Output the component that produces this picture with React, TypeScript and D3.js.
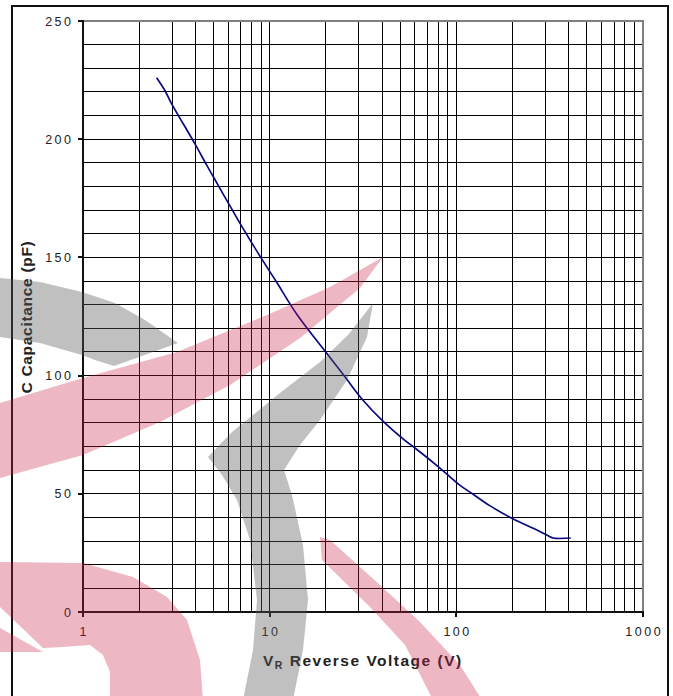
import React from "react";
import * as d3 from "d3";

// Reverse voltage (V) and junction capacitance (pF) along the characteristic curve
const voltage = [2.48, 2.75, 2.96, 3.98, 4.6, 5.0, 6.26, 7.17, 8.96, 10.8, 14.1, 20.4, 25.3, 31.3, 40.7, 53.2, 59.1, 81.4, 103, 123, 151, 202, 258, 305, 330, 410];
const capacitance = [226, 220.5, 215.5, 198, 189, 184, 170.5, 162.5, 150, 140, 125.5, 109, 99.5, 90, 80.5, 72.5, 69.8, 61, 54, 49.8, 45, 39.3, 35.4, 32.6, 31.3, 31.3];

const yTicks = [0, 50, 100, 150, 200, 250];
const xTicks = [1, 10, 100, 1000];
const xTickLabels = ["1", "10", "100", "1000"];

// Background emblem outlines (page pixels)
const emblemGray: [number, number][][] = [
  [[0, 278], [40, 282], [82, 292], [115, 303], [145, 320], [178, 343], [114, 366], [95, 360], [82, 355], [40, 343], [0, 337]],
  [[373, 303], [367, 337], [347, 380], [320, 420], [300, 445], [284, 470], [292, 495], [303, 545], [308, 600], [303, 650], [293, 700], [243, 700], [253, 650], [257, 600], [250, 540], [237, 500], [222, 475], [208, 457], [232, 432], [280, 393], [320, 362], [348, 335]],
];
const emblemPink: [number, number][][] = [
  [[0, 403], [83, 378], [177, 352], [267, 315], [330, 287], [383, 257], [360, 288], [300, 338], [230, 385], [160, 422], [83, 455], [0, 478]],
  [[320, 537], [330, 540], [380, 585], [420, 622], [460, 665], [482, 700], [433, 700], [405, 645], [370, 607], [322, 560]],
  [[0, 562], [83, 563], [133, 577], [167, 597], [187, 620], [200, 660], [203, 700], [110, 700], [110, 672], [103, 655], [90, 645], [62, 647], [43, 648], [0, 607]],
  [[0, 628], [43, 652], [0, 652]],
];

export default function App() {
  const W = 673;
  const H = 696;
  const x = d3.scaleLog().domain([1, 1000]).range([83, 643]);
  const y = d3.scaleLinear().domain([0, 250]).range([612, 21]);

  const vGrid: number[] = [];
  [1, 10, 100].forEach((d) => {
    for (let k = 2; k <= 10; k++) vGrid.push(k * d);
  });
  const hGrid = d3.range(10, 250, 10);

  const pts = voltage.map((v, i) => [v, capacitance[i]] as [number, number]);
  const line = d3
    .line<[number, number]>()
    .x((d) => x(d[0]))
    .y((d) => y(d[1]))
    .curve(d3.curveCatmullRom.alpha(0.5));

  const shape = d3.line<[number, number]>().curve(d3.curveLinearClosed);

  const tickFont = "Liberation Sans, Arial, sans-serif";
  const ls = 2.5;

  return (
    <svg
      width={W}
      height={H}
      viewBox={`0 0 ${W} ${H}`}
      style={{ position: "absolute", left: 0, top: 0, background: "#fff" }}
    >
      <rect x={0} y={0} width={W} height={H} fill="#fff" />
      {/* outer frame */}
      <rect x={12} y={6} width={656} height={700} fill="none" stroke="#111" strokeWidth={2} />

      {/* grid */}
      <g stroke="#000" strokeWidth={1} shapeRendering="crispEdges">
        {vGrid.map((v) => (
          <line key={"v" + v} x1={x(v)} x2={x(v)} y1={y(0)} y2={y(250)} />
        ))}
        {hGrid.map((c) => (
          <line key={"h" + c} x1={x(1)} x2={x(1000)} y1={y(c)} y2={y(c)} />
        ))}
      </g>

      {/* plot border top / right */}
      <g stroke="#808080" strokeWidth={2} shapeRendering="crispEdges">
        <line x1={x(1)} x2={x(1000) + 1} y1={y(250)} y2={y(250)} />
        <line x1={x(1000)} x2={x(1000)} y1={y(250)} y2={y(0)} />
      </g>

      {/* axes */}
      <g stroke="#111" strokeWidth={2} shapeRendering="crispEdges">
        <line x1={x(1)} x2={x(1)} y1={y(250) - 1} y2={y(0) + 1} />
        <line x1={x(1)} x2={x(1000) + 1} y1={y(0)} y2={y(0)} />
        {yTicks.map((t) => (
          <line key={"yt" + t} x1={x(1) - 5} x2={x(1)} y1={y(t)} y2={y(t)} />
        ))}
        {xTicks.map((t) => (
          <line key={"xt" + t} x1={x(t)} x2={x(t)} y1={y(0)} y2={y(0) + 5} />
        ))}
      </g>

      {/* capacitance curve */}
      <path d={line(pts) || ""} fill="none" stroke="#0a0a80" strokeWidth={1.7} />

      {/* tick labels */}
      <g fontFamily={tickFont} fontSize={12.5} fill="#222" letterSpacing={ls}>
        {yTicks.map((t) => (
          <text key={"yl" + t} x={71 + ls} y={y(t) + 4.5} textAnchor="end">
            {t}
          </text>
        ))}
        {xTicks.map((t, i) => (
          <text key={"xl" + t} x={x(t) + ls / 2} y={636} textAnchor="middle">
            {xTickLabels[i]}
          </text>
        ))}
      </g>

      {/* axis titles */}
      <text x={263} y={666} fontFamily={tickFont} fontWeight="bold" fontSize={15.5} fill="#222" letterSpacing={1.5}>
        V<tspan fontSize={10.5} dy={3}>R</tspan>
        <tspan dy={-3}> Reverse Voltage (V)</tspan>
      </text>
      <text
        transform={`translate(32, 317) rotate(-90)`}
        textAnchor="middle"
        fontFamily={tickFont}
        fontWeight="bold"
        fontSize={15.5}
        fill="#222"
        letterSpacing={0.7}
      >
        C Capacitance (pF)
      </text>

      {/* emblem overlay */}
      <g>
        {emblemGray.map((p, i) => (
          <path key={"g" + i} d={shape(p) || ""} fill="rgb(90,90,90)" fillOpacity={0.38} />
        ))}
        {emblemPink.map((p, i) => (
          <path key={"p" + i} d={shape(p) || ""} fill="rgb(200,30,70)" fillOpacity={0.32} />
        ))}
      </g>
    </svg>
  );
}
